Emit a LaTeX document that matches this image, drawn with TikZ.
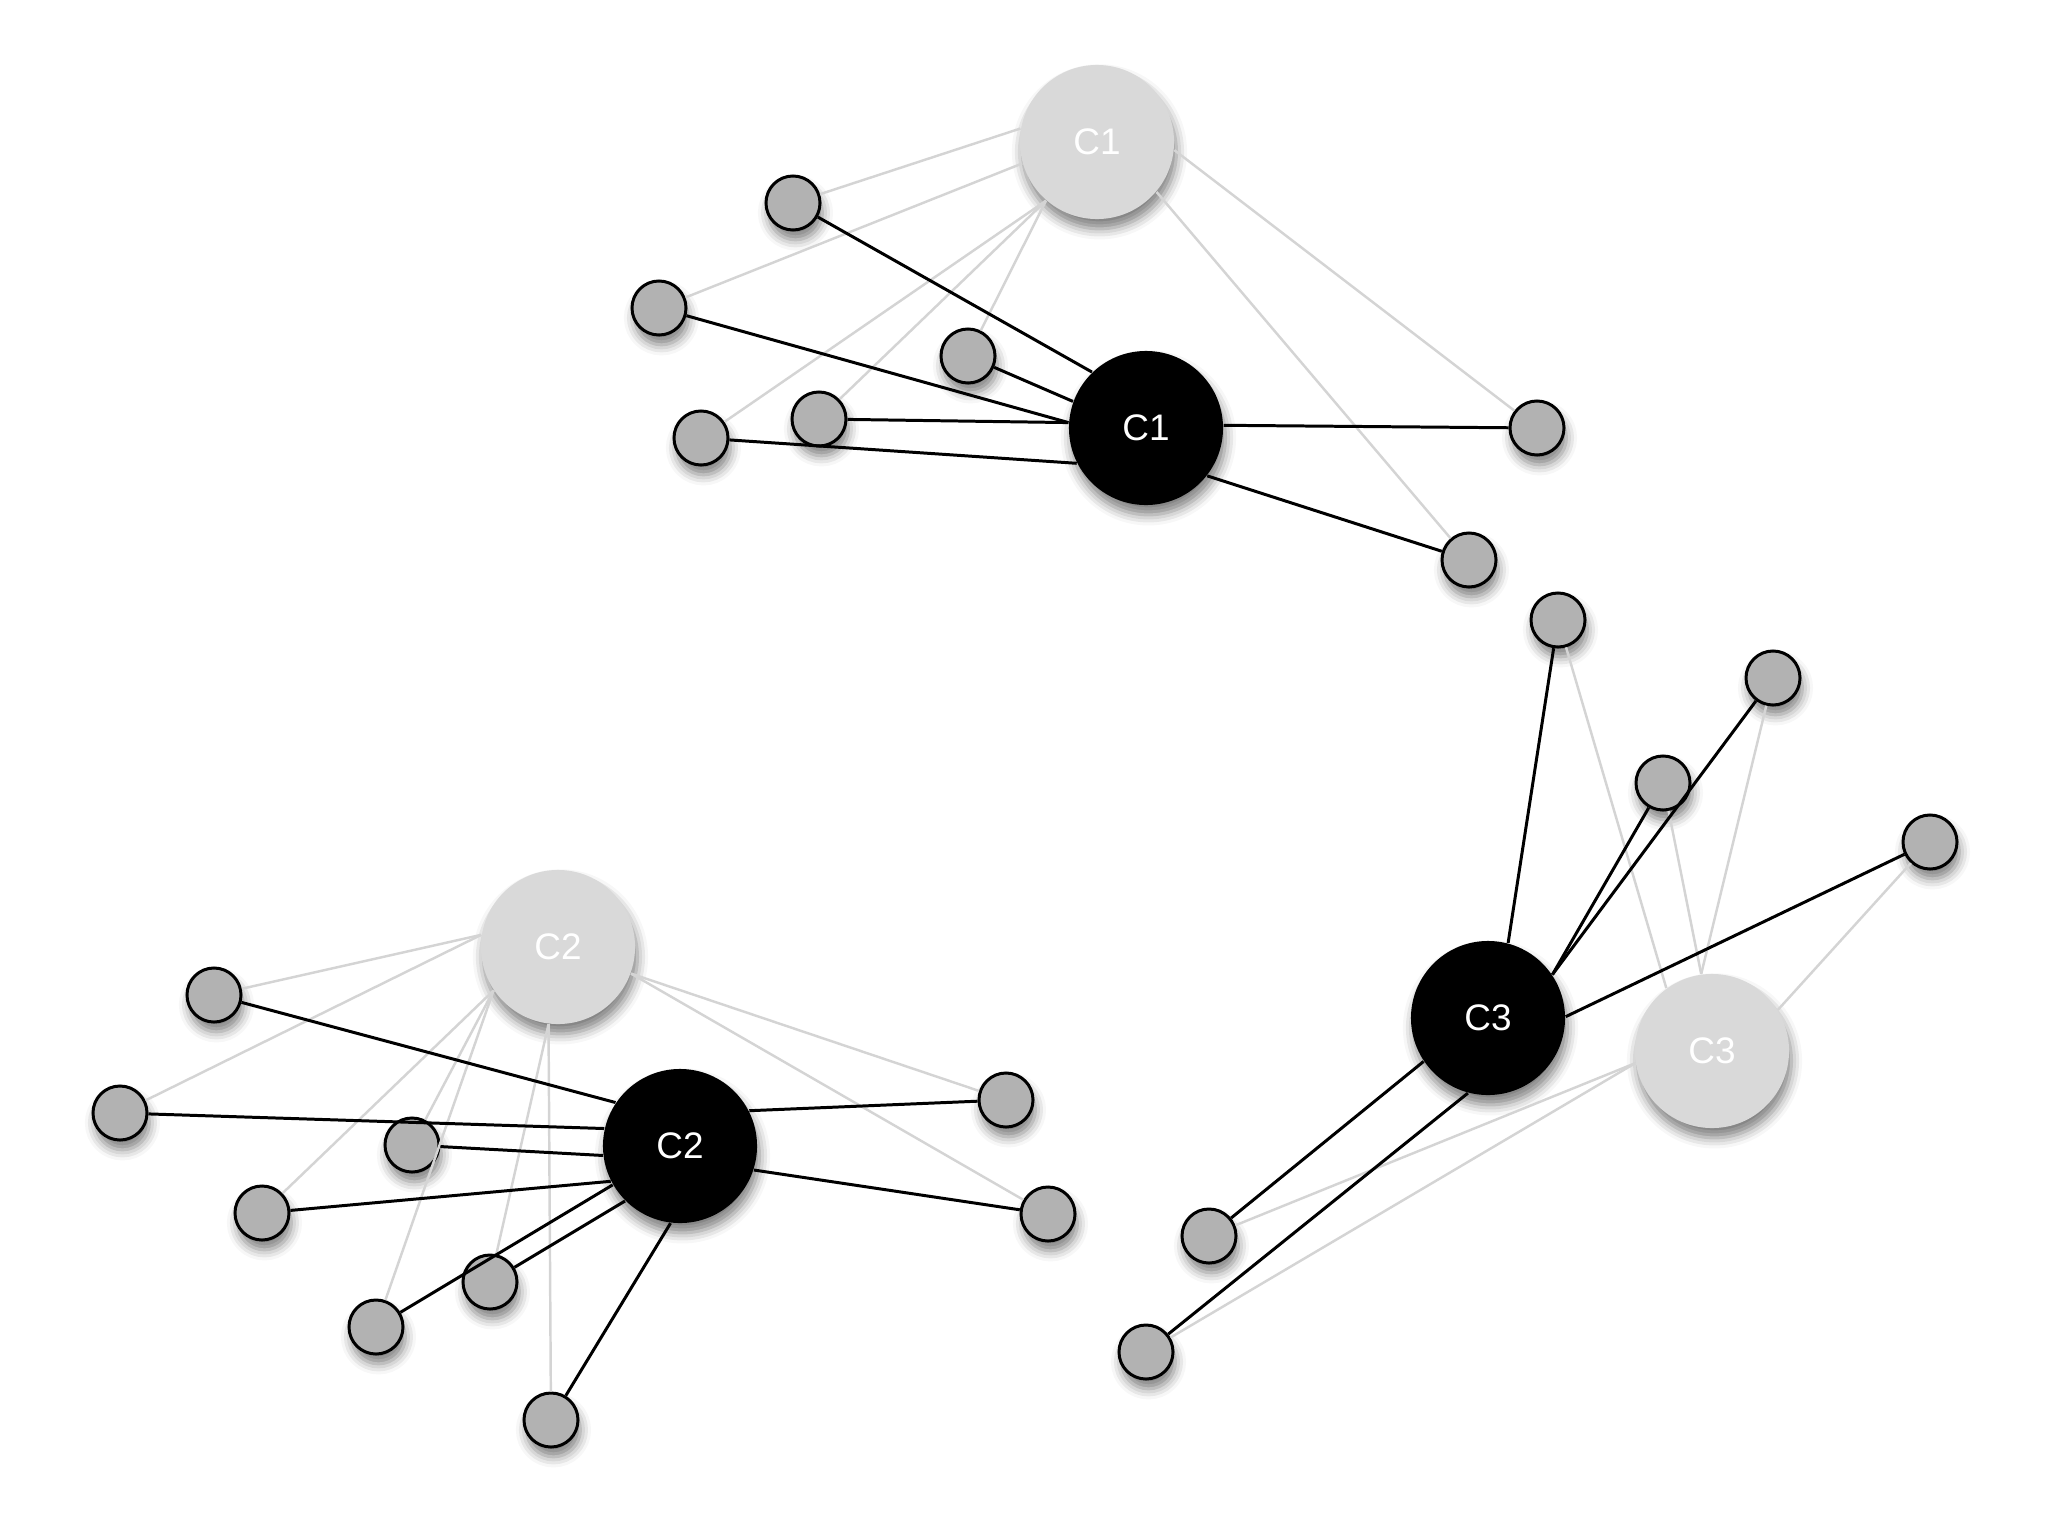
\documentclass[tikz,border=0pt]{standalone}
\usepackage{fontspec}
\setmainfont{Liberation Sans}
\usetikzlibrary{shapes,shadows.blur}

\begin{document}
\begin{tikzpicture}
[x=0.01cm, y=-0.01cm,
 schatten/.style={blur shadow={shadow xshift=0.7pt, shadow yshift=-2.8pt, shadow blur radius=3pt, shadow opacity=50}},
 punkt/.style={shape=circle,draw,line width=0.85pt,fill=black!30,minimum size=0.54cm,inner sep=0pt,schatten},
 alt/.style={shape=circle,fill=black!15,text=white,minimum size=1.54cm,inner sep=0pt,font=\fontsize{10.5}{12}\selectfont,schatten},
 neu/.style={shape=circle,fill=black,text=white,minimum size=1.54cm,inner sep=0pt,font=\fontsize{10.5}{12}\selectfont,schatten},
 grau/.style={draw=black!17,line width=0.7pt},
 kante/.style={draw=black,line width=0.85pt}]
\useasboundingbox (0, 0) rectangle (2048, 1536);
% cluster 1
\node (a1) at (1097, 142) [alt] {C1};
\node (n1) at (1146, 428) [neu] {C1};
\node (p1) at (793, 203) [punkt] {};
\node (p2) at (659, 308) [punkt] {};
\node (p3) at (968, 356) [punkt] {};
\node (p4) at (819, 419) [punkt] {};
\node (p5) at (701, 438) [punkt] {};
\node (p6) at (1537, 428) [punkt] {};
\node (p7) at (1469, 560) [punkt] {};
% cluster 2
\node (a2) at (558, 947) [alt] {C2};
\node (n2) at (680, 1146) [neu] {C2};
\node (r1) at (214, 995) [punkt] {};
\node (r2) at (120, 1113) [punkt] {};
\node (r3) at (412, 1145) [punkt] {};
\node (r4) at (262, 1213) [punkt] {};
\node (r5) at (490, 1282) [punkt] {};
\node (r6) at (376, 1327) [punkt] {};
\node (r7) at (551, 1420) [punkt] {};
\node (r8) at (1006, 1100) [punkt] {};
\node (r9) at (1048, 1214) [punkt] {};
% cluster 3
\node (a3) at (1712, 1051) [alt] {C3};
\node (n3) at (1488, 1018) [neu] {C3};
\node (q1) at (1558, 620) [punkt] {};
\node (q2) at (1773, 678) [punkt] {};
\node (q3) at (1663, 783) [punkt] {};
\node (q4) at (1930, 842) [punkt] {};
\node (q5) at (1209, 1236) [punkt] {};
\node (q6) at (1146, 1352) [punkt] {};
% old assignment
\draw[grau] (a1.170) -- (p1);
\draw[grau] (a1.196) -- (p2);
\draw[grau] (a1.229) -- (p3);
\draw[grau] (a1.229) -- (p4);
\draw[grau] (a1.229) -- (p5);
\draw[grau] (a1.-6) -- (p6);
\draw[grau] (a1.-40) -- (p7);
\draw[grau] (a2.171) -- (r1);
\draw[grau] (a2.171) -- (r2);
\draw[grau] (a2.214) -- (r3);
\draw[grau] (a2.214) -- (r4);
\draw[grau] (a2.263) -- (r5);
\draw[grau] (a2.214) -- (r6);
\draw[grau] (a2.263) -- (r7);
\draw[grau] (a2.-20) -- (r8);
\draw[grau] (a2.-20) -- (r9);
\draw[grau] (a3.126) -- (q1);
\draw[grau] (a3.98) -- (q2);
\draw[grau] (a3.98) -- (q3);
\draw[grau] (a3.32) -- (q4);
\draw[grau] (a3.189) -- (q5);
\draw[grau] (a3.189) -- (q6);
% new assignment
\draw[kante] (n1.134) -- (p1);
\draw[kante] (n1.176) -- (p2);
\draw[kante] (n1.160) -- (p3);
\draw[kante] (n1.176) -- (p4);
\draw[kante] (n1.207) -- (p5);
\draw[kante] (n1.2) -- (p6);
\draw[kante] (n1.-38) -- (p7);
\draw[kante] (n2.146) -- (r1);
\draw[kante] (n2.167) -- (r2);
\draw[kante] (n2.187) -- (r3);
\draw[kante] (n2.207) -- (r4);
\draw[kante] (n2.225) -- (r5);
\draw[kante] (n2.210) -- (r6);
\draw[kante] (n2.263) -- (r7);
\draw[kante] (n2.27) -- (r8);
\draw[kante] (n2.-18) -- (r9);
\draw[kante] (n3.75) -- (q1);
\draw[kante] (n3.34) -- (q2);
\draw[kante] (n3.34) -- (q3);
\draw[kante] (n3.1) -- (q4);
\draw[kante] (n3.214) -- (q5);
\draw[kante] (n3.255) -- (q6);
\end{tikzpicture}
\end{document}
